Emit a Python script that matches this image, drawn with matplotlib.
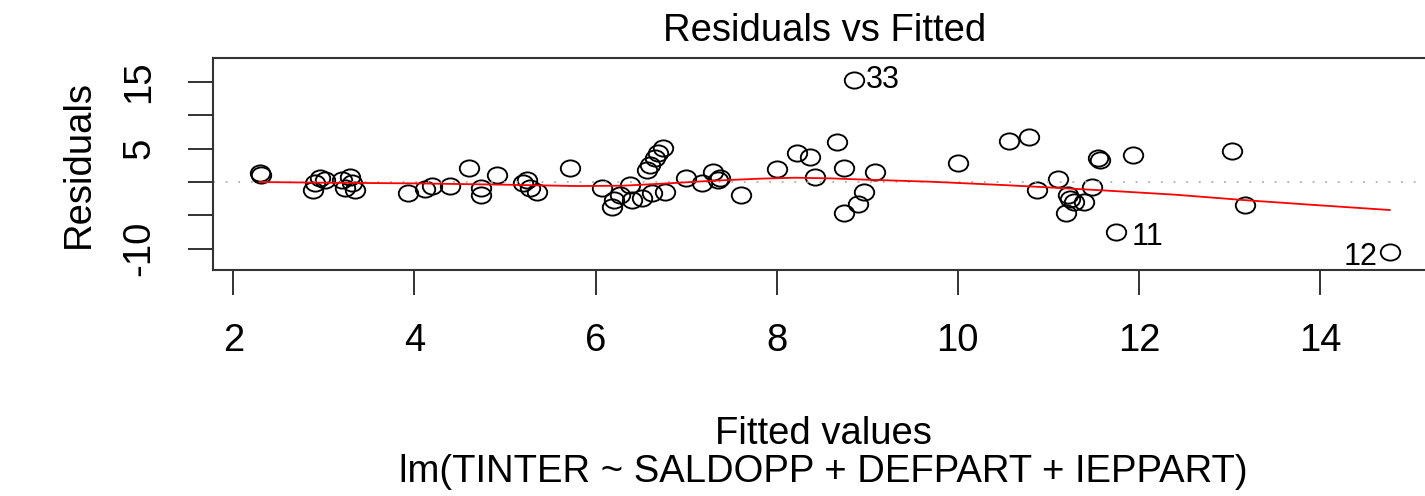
import matplotlib.pyplot as plt
from matplotlib.path import Path
from matplotlib.transforms import Affine2D

plt.rcParams['font.family'] = ['Liberation Sans', 'DejaVu Sans']

# fitted values and residuals
fitted = [2.29, 2.31, 2.90, 2.88, 2.96, 3.01, 3.20, 3.23, 3.29, 3.31, 3.34,
          3.93, 4.12, 4.19, 4.39, 4.60, 4.74, 4.74, 4.91, 5.24, 5.20, 5.28,
          5.35, 5.72, 6.07, 6.20, 6.18, 6.27, 6.38, 6.40, 6.51, 6.62, 6.77,
          6.57, 6.60, 6.66, 6.69, 6.75, 7.00, 7.17, 7.30, 7.37, 7.35, 7.61,
          8.00, 8.22, 8.37, 8.42, 8.67, 8.74, 8.85, 9.09, 8.96, 8.90, 8.74,
          10.00, 10.56, 10.79, 10.87, 11.11, 11.22, 11.24, 11.28, 11.39,
          11.48, 11.20, 11.55, 11.57, 11.94, 13.03, 13.17, 11.75, 14.77]
resid = [1.3, 1.1, -0.2, -1.2, 0.55, 0.3, 0.3, -0.95, 0.8, -0.2, -1.2,
         -1.7, -1.1, -0.6, -0.6, 2.06, -0.95, -1.95, 1.05, 0.3, -0.15, -0.9,
         -1.45, 2.06, -0.95, -2.7, -3.7, -1.95, -0.45, -2.7, -2.45, -1.7, -1.45,
         1.8, 2.55, 3.56, 4.3, 5.06, 0.55, -0.2, 1.55, 0.55, 0.3, -1.95,
         1.9, 4.3, 3.7, 0.7, 6.06, 2.05, 15.3, 1.55, -1.45, -3.3, -4.7,
         2.8, 6.2, 6.7, -1.2, 0.4, -1.95, -2.6, -2.95, -2.95,
         -0.7, -4.7, 3.56, 3.3, 4.05, 4.7, -3.45, -7.46, -10.46]

# red smoother
smooth_x = [2.29, 3.0, 4.0, 5.0, 5.8, 6.3, 6.8, 7.3, 7.8, 8.2, 8.6, 9.0,
            9.7, 10.5, 11.0, 11.6, 12.4, 13.2, 14.0, 14.77]
smooth_y = [0.0, -0.1, -0.2, -0.4, -0.6, -0.55, -0.2, 0.2, 0.5, 0.65, 0.55,
            0.35, 0.05, -0.45, -0.8, -1.25, -1.9, -2.75, -3.5, -4.2]

# labelled observations: id, fitted, residual, offset (pt), ha
labels = [("33", 8.85, 15.3, (9, 0), "left"),
          ("11", 11.75, -7.46, (11, -4), "left"),
          ("12", 14.77, -10.46, (-9, -4), "right")]

xticks = [2, 4, 6, 8, 10, 12, 14]
yticks = [-10, -5, 0, 5, 10, 15]
ytick_labels = ["-10", "", "", "5", "", "15"]

fig = plt.figure(figsize=(14.25, 4.96), dpi=100)
ax = fig.add_axes([0.1495, 0.4556, 0.8582, 0.4274])

ring = Affine2D().scale(1.2, 1.0).transform_path(Path.unit_circle())
ax.plot(fitted, resid, linestyle="none", marker=ring, markersize=14,
        markerfacecolor="none", markeredgecolor="black", markeredgewidth=1.35)
ax.axhline(0, color="#b0b0b0", linestyle=(0, (1, 6)), linewidth=1.3)
ax.plot(smooth_x, smooth_y, color="red", linewidth=1.3)

for txt, fx, ry, off, ha in labels:
    ax.annotate(txt, (fx, ry), xytext=off, textcoords="offset points",
                ha=ha, va="center", fontsize=22)

ax.set_xlim(1.776, 15.28)
ax.set_ylim(-13.21, 18.62)
ax.set_xticks(xticks)
ax.set_yticks(yticks)
ax.set_yticklabels(ytick_labels, rotation=90, va="center")
ax.tick_params(axis="both", length=18, width=1.3, labelsize=27.5, color="#222222")
ax.tick_params(axis="x", pad=20)
ax.tick_params(axis="y", pad=22)
for s in ax.spines.values():
    s.set_linewidth(1.5)
    s.set_color("#333333")

ax.set_title("Residuals vs Fitted", fontsize=27.5, pad=12)
ax.set_ylabel("Residuals", fontsize=27.5, labelpad=18)
fig.text(0.578, 0.125, "Fitted values", ha="center", va="center", fontsize=27.5)
fig.text(0.578, 0.048, "lm(TINTER ~ SALDOPP + DEFPART + IEPPART)",
         ha="center", va="center", fontsize=27.5)

fig.savefig("out.png", dpi=100)
